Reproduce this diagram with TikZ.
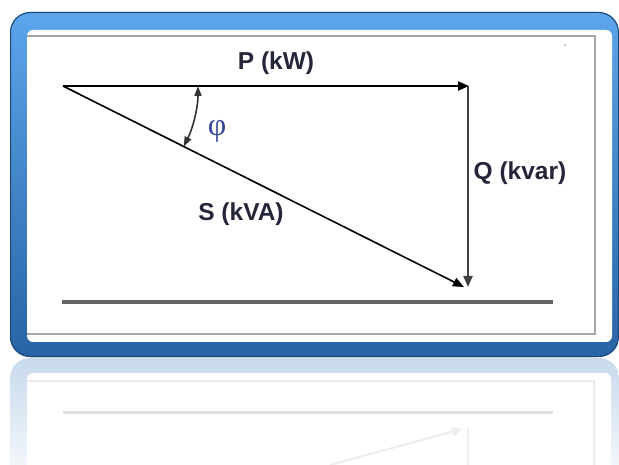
\documentclass[tikz,border=0pt]{standalone}
\usepackage{fontspec}
\usetikzlibrary{arrows.meta}
\newfontfamily\labfont{Liberation Sans}
\newfontfamily\phifont{Liberation Serif}
\definecolor{txt}{RGB}{38,38,58}
\definecolor{phic}{RGB}{55,75,150}
\definecolor{bluetop}{RGB}{92,165,235}
\definecolor{bluebot}{RGB}{40,100,165}
\definecolor{refl}{RGB}{200,218,236}
\tikzset{
  lab/.style={text=txt,font=\labfont\bfseries\fontsize{24.5}{26}\selectfont,inner sep=0pt},
  vec/.style={line width=2.2pt,-{Triangle[length=11pt,width=9pt]}},
  faint/.style={draw=black!10,line width=2pt}
}
\begin{document}
\begin{tikzpicture}[x=1pt,y=-1pt]
\useasboundingbox (0,0) rectangle (619,465);
% reflection
\shade[top color=refl,bottom color=white,rounded corners=20pt] (10,358) rectangle (619,500);
\fill[white,rounded corners=6pt] (27,373) rectangle (611,500);
\draw[black!8,line width=1.2pt] (27,381) -- (594,381) -- (594,465);
\draw[faint,black!12,line width=3pt] (63,412) -- (553,412);
\draw[black!7,line width=2pt,-{Triangle[length=10pt,width=9pt]}] (330,465) -- (462,429);
\draw[faint,black!7] (468,429) -- (468,465);
% frame
\shade[top color=bluetop,bottom color=bluebot,rounded corners=20pt] (10,12) rectangle (619,357);
\draw[bluebot!70!black,line width=1pt,rounded corners=20pt] (10.5,12.5) rectangle (618.5,356.5);
\fill[white,rounded corners=6pt] (27,30) rectangle (612,342);
\draw[black!35,line width=1.2pt] (27,36) -- (595,36) -- (595,334) -- (27,334);
\fill[black!30] (565,45) circle (1pt);
% diagram
\coordinate (O) at (63,86);
\coordinate (Pend) at (469,86);
\coordinate (Qend) at (468,287);
\draw[vec,black] (O) -- (Pend);
\draw[vec,black!75,line width=2pt] (468,86) -- (Qend);
\draw[vec,black,line width=1.6pt] (O) -- (464,287);
\draw[black!60,line width=4pt] (62,302) -- (553,302);
\draw[black!80,line width=1.6pt,{Triangle[length=10pt,width=7pt]}-{Triangle[length=10pt,width=7pt]}] (198,86) arc[start angle=0,end angle=26.7,radius=135];
\node[lab] (P) at (276,63) {P (kW)};
\node[lab] (Q) at (520,173) {Q (kvar)};
\node[lab] (S) at (241,214) {S (kVA)};
\node[text=phic,font=\phifont\fontsize{32}{34}\selectfont,inner sep=0pt] (phi) at (217,131) {φ};
\end{tikzpicture}
\end{document}
